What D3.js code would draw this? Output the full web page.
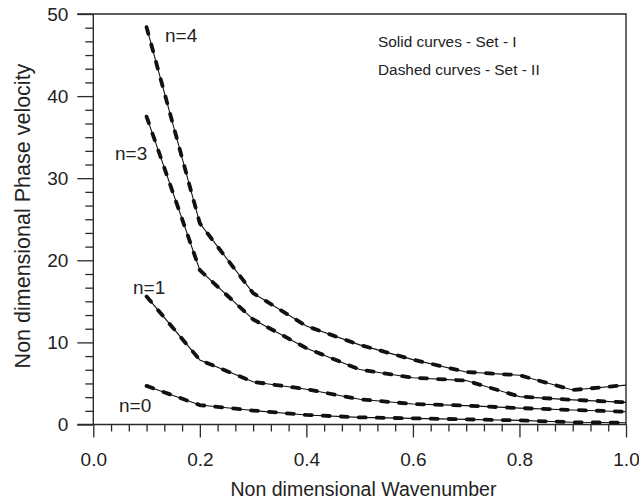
<!DOCTYPE html>
<html>
<head>
<meta charset="utf-8">
<script src="https://cdn.jsdelivr.net/npm/d3@7"></script>
<style>
  html, body { margin: 0; padding: 0; background: #fff; }
  svg { display: block; font-family: "Liberation Sans", Arial, sans-serif; }
</style>
</head>
<body>
<svg id="chart" width="639" height="503"></svg>
<script>
// Non dimensional wavenumber samples
const waveNumber = [0.1, 0.2, 0.3, 0.4, 0.5, 0.6, 0.7, 0.8, 0.9, 1.0];
// Non dimensional phase velocity for each mode
const modeN0 = [4.7, 2.37, 1.7, 1.16, 0.87, 0.75, 0.63, 0.5, 0.27, 0.22];
const modeN1 = [15.6, 7.86, 5.2, 4.3, 3.07, 2.5, 2.3, 2.0, 1.77, 1.56];
const modeN3 = [37.5, 18.8, 12.8, 9.3, 6.7, 5.7, 5.35, 3.4, 3.0, 2.7];
const modeN4 = [48.4, 24.5, 16.0, 12.0, 9.7, 7.9, 6.4, 6.0, 4.2, 4.8];
const modeNames = ["n=0", "n=1", "n=3", "n=4"];
const xTicks = [0.0, 0.2, 0.4, 0.6, 0.8, 1.0];
const yTicks = [0, 10, 20, 30, 40, 50];
const legendLines = ["Solid curves - Set - I", "Dashed curves - Set - II"];

const modes = [modeN0, modeN1, modeN3, modeN4];

const svg = d3.select("#chart");
const plotLeft = 93.3, plotRight = 626, plotTop = 14, plotBottom = 424.5;

const x = d3.scaleLinear().domain([0, 1]).range([plotLeft, plotRight]);
const y = d3.scaleLinear().domain([0, 50]).range([plotBottom, plotTop]);

const ink = "#2a2a2a";

// Minor ticks: five between each pair of majors
const xMinor = d3.range(0, 31).filter(i => i % 6 !== 0).map(i => i / 30);
const yMinor = d3.range(0, 31).filter(i => i % 6 !== 0).map(i => i * 50 / 30);

const xAxis = svg.append("g").attr("transform", `translate(0,${plotBottom})`);
xAxis.call(d3.axisBottom(x).tickValues(xMinor).tickSize(7).tickFormat(""));
xAxis.append("g").call(d3.axisBottom(x).tickValues(xTicks).tickSize(13).tickPadding(15)
  .tickFormat(d3.format(".1f")));

const yAxis = svg.append("g").attr("transform", `translate(${plotLeft},0)`);
yAxis.call(d3.axisLeft(y).tickValues(yMinor).tickSize(8).tickFormat(""));
yAxis.append("g").call(d3.axisLeft(y).tickValues(yTicks).tickSize(16).tickPadding(9)
  .tickFormat(d3.format("d")));

svg.selectAll(".domain").remove();
svg.selectAll(".tick line").attr("stroke", ink).attr("stroke-width", 1.3);
svg.selectAll(".tick text").attr("fill", "#222").attr("font-size", 19)
  .attr("font-family", "Liberation Sans, Arial, sans-serif");

// Frame: bottom, right, top, left
svg.append("path")
  .attr("d", `M${plotLeft - 16},${plotBottom}H${plotRight}V${plotTop}H${plotLeft - 16}M${plotLeft},${plotTop}V${plotBottom}`)
  .attr("fill", "none").attr("stroke", ink).attr("stroke-width", 1.4);

const line = d3.line().x((d, i) => x(waveNumber[i])).y(d => y(d));

const curves = svg.append("g");
modes.forEach(vals => {
  // Set I: thin solid curve
  curves.append("path").attr("d", line(vals))
    .attr("fill", "none").attr("stroke", "#111").attr("stroke-width", 1.1);
  // Set II: dashed curve drawn over it
  curves.append("path").attr("d", line(vals))
    .attr("fill", "none").attr("stroke", "#111").attr("stroke-width", 3.8)
    .attr("stroke-linecap", "round").attr("stroke-dasharray", "7,11");
});

// Mode labels
const labelPos = [[119, 411.5], [133, 294], [115, 160], [165, 42]];
svg.append("g").selectAll("text").data(modeNames).join("text")
  .attr("x", (d, i) => labelPos[i][0]).attr("y", (d, i) => labelPos[i][1])
  .attr("font-size", 19).attr("fill", "#222").text(d => d);

// Legend notes
svg.append("g").selectAll("text").data(legendLines).join("text")
  .attr("x", 378).attr("y", (d, i) => 47.3 + i * 28)
  .attr("font-size", 15.4).attr("fill", "#222").text(d => d);

// Axis titles
svg.append("text").attr("x", 363.5).attr("y", 496).attr("text-anchor", "middle")
  .attr("font-size", 19.5).attr("fill", "#222").text("Non dimensional Wavenumber");
svg.append("text").attr("transform", "translate(30,216) rotate(-90)").attr("text-anchor", "middle")
  .attr("font-size", 21.5).attr("fill", "#222").text("Non dimensional Phase velocity");
</script>
</body>
</html>
